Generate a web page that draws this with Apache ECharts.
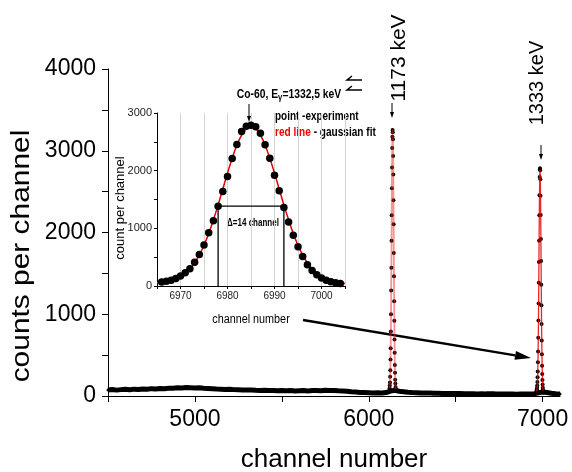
<!DOCTYPE html>
<html>
<head>
<meta charset="utf-8">
<script src="https://cdn.jsdelivr.net/npm/echarts@6/dist/echarts.min.js"></script>
<style>
  html, body { margin: 0; padding: 0; background: #fff; }
  #chart { width: 572px; height: 472px; }
</style>
</head>
<body>
<div id="chart"></div>
<script>
// --- data ---
// continuum, one value every 25 channels starting at 4500
const bgStart = 4500;
const bgStep = 25;
const bgCounts = [
  74, 80, 72, 78, 82, 76, 84, 80, 86, 82, 90, 86, 92, 88, 96, 94,
  100, 98, 104, 102, 98, 100, 94, 92, 90, 86, 84, 80, 82, 78, 76, 74,
  72, 74, 70, 68, 70, 66, 68, 64, 66, 64, 66, 62, 64, 66, 62, 66,
  68, 64, 70, 66, 68, 64, 62, 58, 52, 48, 44, 42, 40, 38, 40, 38,
  42, 60, 70, 58, 52, 46, 42, 40, 38, 36, 36, 34, 34, 32, 32, 30,
  30, 30, 28, 28, 28, 26, 28, 26, 26, 26, 24, 26, 24, 24, 22, 24,
  24, 24, 26, 40, 48, 42, 34, 28, 24
];

// 1173 keV peak, channels 6120..6155
const peak1Start = 6120;
const peak1Points = [95, 128, 165, 236, 315, 445, 585, 790, 1000, 1290, 1570, 1900, 2210, 2540, 2795, 3035,
  3170, 3254, 3225, 3140, 2935, 2710, 2395, 2100, 1750, 1465, 1160, 920, 690, 530, 380, 285, 200, 152, 110, 88];
const peak1Fit = [95, 125, 169, 232, 320, 438, 590, 780, 1011, 1278, 1577, 1894, 2218, 2529, 2805, 3027,
  3181, 3251, 3233, 3130, 2946, 2700, 2407, 2090, 1766, 1454, 1168, 914, 700, 524, 387, 282, 205, 150, 112, 86];

// 1332.5 keV peak (also the inset), points 6966..7004, fit 6965..7005
const peak2PointStart = 6966;
const peak2Points = [70, 84, 100, 128, 172, 228, 300, 412, 545, 712, 925, 1130, 1385, 1640, 1900, 2210,
  2455, 2680, 2770, 2787, 2762, 2650, 2450, 2215, 1920, 1650, 1360, 1110, 880, 680, 510, 370, 270, 195,
  140, 100, 74, 56, 44];
const peak2FitStart = 6965;
const peak2Fit = [55, 62, 73, 91, 118, 158, 216, 295, 401, 537, 706, 910, 1147, 1405, 1680, 1957, 2216,
  2441, 2615, 2727, 2765, 2727, 2615, 2441, 2216, 1957, 1680, 1405, 1147, 910, 706, 537, 401, 295, 216,
  155, 112, 85, 66, 52, 42];

// FWHM marker in the inset
const halfMax = 1385;
const fwhmLeft = 6978;
const fwhmRight = 6992;

// ticks and labels
const mainXTicks = [4500, 5000, 5500, 6000, 6500, 7000];
const mainXLabels = [5000, 6000, 7000];
const mainYTicks = [0, 500, 1000, 1500, 2000, 2500, 3000, 3500, 4000];
const mainYLabels = [0, 1000, 2000, 3000, 4000];
const insetXLabels = [6970, 6980, 6990, 7000];
const insetYLabels = [0, 1000, 2000, 3000];

const pairs = (start, step, arr) => arr.map((v, i) => [start + i * step, v]);

const sans = "'Liberation Sans', Arial, sans-serif";

function arrow(x1, y1, x2, y2, w, headLen, headW) {
  const a = Math.atan2(y2 - y1, x2 - x1);
  const bx = x2 - headLen * Math.cos(a), by = y2 - headLen * Math.sin(a);
  const px = -Math.sin(a) * headW / 2, py = Math.cos(a) * headW / 2;
  return [
    { type: 'line', shape: { x1: x1, y1: y1, x2: bx, y2: by }, style: { stroke: '#000', lineWidth: w } },
    { type: 'polygon', shape: { points: [[x2, y2], [bx + px, by + py], [bx - px, by - py]] }, style: { fill: '#000' } }
  ];
}

function label(text, x, y, font, opts, align) {
  return Object.assign({
    type: 'text', x: x, y: y,
    style: { text: text, font: font, fill: '#000', textAlign: align || 'center', textVerticalAlign: 'middle' }
  }, opts || {});
}

const chart = echarts.init(document.getElementById('chart'));

chart.setOption({
  animation: false,
  backgroundColor: '#fff',
  grid: [
    { left: 108, top: 69, width: 452, height: 327 },
    { left: 157, top: 113, width: 188, height: 173 }
  ],
  xAxis: [
    {
      gridIndex: 0, type: 'value', min: 4500, max: 7100,
      axisLine: { lineStyle: { color: '#000', width: 1 } },
      axisTick: { customValues: mainXTicks, length: 6, lineStyle: { color: '#000' } },
      axisLabel: { customValues: mainXLabels, formatter: v => String(v), fontSize: 23, color: '#000', fontFamily: sans, margin: 12 },
      splitLine: { show: false }
    },
    {
      gridIndex: 1, type: 'value', min: 6965, max: 7005, interval: 5,
      axisLine: { lineStyle: { color: '#000', width: 1 } },
      axisTick: { length: 3, lineStyle: { color: '#000' } },
      axisLabel: {
        formatter: v => (insetXLabels.indexOf(v) >= 0 ? String(v) : ''),
        fontSize: 10, color: '#222', fontFamily: sans, margin: 5
      },
      splitLine: { show: true, lineStyle: { color: '#d4d4d4', width: 1 } }
    }
  ],
  yAxis: [
    {
      gridIndex: 0, type: 'value', min: 0, max: 4000,
      axisLine: { show: true, lineStyle: { color: '#000', width: 1 } },
      axisTick: { show: true, customValues: mainYTicks, length: 6, lineStyle: { color: '#000' } },
      axisLabel: { customValues: mainYLabels, formatter: v => String(v), fontSize: 23, color: '#000', fontFamily: sans, margin: 12 },
      splitLine: { show: false }
    },
    {
      gridIndex: 1, type: 'value', min: 0, max: 3000, interval: 500,
      axisLine: { show: true, lineStyle: { color: '#000', width: 1 } },
      axisTick: { show: true, length: 3, lineStyle: { color: '#000' } },
      axisLabel: {
        formatter: v => (insetYLabels.indexOf(v) >= 0 ? String(v) : ''),
        fontSize: 11, color: '#222', fontFamily: sans, margin: 5
      },
      splitLine: { show: false }
    }
  ],
  series: [
    {
      type: 'line', xAxisIndex: 0, yAxisIndex: 0,
      data: pairs(bgStart, bgStep, bgCounts),
      symbol: 'circle', symbolSize: 3, showSymbol: true,
      lineStyle: { color: '#000', width: 5 }, itemStyle: { color: '#000' }
    },
    {
      type: 'line', xAxisIndex: 0, yAxisIndex: 0, smooth: true, showSymbol: false,
      data: pairs(peak1Start, 1, peak1Fit),
      lineStyle: { color: 'rgba(240,40,40,0.5)', width: 1.8 }
    },
    {
      type: 'scatter', xAxisIndex: 0, yAxisIndex: 0, symbolSize: 4,
      data: pairs(peak1Start, 1, peak1Points), itemStyle: { color: '#000', opacity: 1 }
    },
    {
      type: 'line', xAxisIndex: 0, yAxisIndex: 0, smooth: true, showSymbol: false,
      data: pairs(peak2FitStart, 1, peak2Fit),
      lineStyle: { color: 'rgba(230,0,0,0.85)', width: 1.3 }
    },
    {
      type: 'scatter', xAxisIndex: 0, yAxisIndex: 0, symbolSize: 4,
      data: pairs(peak2PointStart, 1, peak2Points), itemStyle: { color: '#000', opacity: 1 }
    },
    // inset
    {
      type: 'line', xAxisIndex: 1, yAxisIndex: 1, showSymbol: false,
      data: [[fwhmLeft, 0], [fwhmLeft, halfMax], [fwhmRight, halfMax], [fwhmRight, 0]],
      lineStyle: { color: '#000', width: 1.3 }
    },
    {
      type: 'line', xAxisIndex: 1, yAxisIndex: 1, smooth: true, showSymbol: false,
      data: pairs(peak2FitStart, 1, peak2Fit),
      lineStyle: { color: '#e00000', width: 1.5 }, z: 3
    },
    {
      type: 'scatter', xAxisIndex: 1, yAxisIndex: 1, symbolSize: 7.5,
      data: pairs(peak2PointStart, 1, peak2Points), itemStyle: { color: '#000', opacity: 1 }, z: 4
    }
  ],
  graphic: [
    label('counts per channel', 22, 256, '26px ' + sans, { rotation: Math.PI / 2, scaleX: 1.15 }),
    label('channel number', 334, 460, '26px ' + sans),
    label('1173 keV', 399, 58, '21px ' + sans, { rotation: Math.PI / 2 }),
    label('1333 keV', 537, 83, '20px ' + sans, { rotation: Math.PI / 2 }),
    ...arrow(392, 103, 392, 118, 1, 6, 4),
    ...arrow(541, 145, 541, 160, 1, 6, 4),
    ...arrow(303, 320, 531, 358, 2.5, 16, 9),
    ...arrow(249, 104, 249, 122, 1, 6, 4),
    {
      type: 'text', x: 289, y: 95, scaleX: 0.86,
      style: {
        text: '{b|Co-60, E}{s|γ}{b|=1332,5 keV}', textAlign: 'center', textVerticalAlign: 'middle',
        rich: {
          b: { font: 'bold 12px ' + sans, fill: '#000' },
          s: { font: 'bold 9px ' + sans, fill: '#000', padding: [5, 0, 0, 0] }
        }
      }
    },
    label('point -experiment', 275, 117, 'bold 12px ' + sans, { scaleX: 0.83 }, 'left'),
    {
      type: 'text', x: 275, y: 133, scaleX: 0.84,
      style: {
        text: '{r|red line}{b| - gaussian fit}', textAlign: 'left', textVerticalAlign: 'middle',
        rich: {
          r: { font: 'bold 12px ' + sans, fill: '#f00000' },
          b: { font: 'bold 12px ' + sans, fill: '#000' }
        }
      }
    },
    label('Δ=14 channel', 253, 223, 'bold 10px ' + sans, { scaleX: 0.8 }),
    label('count per channel', 120, 208, '13px ' + sans, { rotation: Math.PI / 2 }),
    label('channel number', 251, 320, '12px ' + sans, { scaleX: 0.9 }),
    { type: 'polyline', shape: { points: [[352, 76], [347, 80], [362, 80]] }, style: { stroke: '#000', lineWidth: 1.5, fill: null } },
    { type: 'polyline', shape: { points: [[352, 86], [347, 90], [362, 90]] }, style: { stroke: '#000', lineWidth: 1.5, fill: null } }
  ]
});
</script>
</body>
</html>
